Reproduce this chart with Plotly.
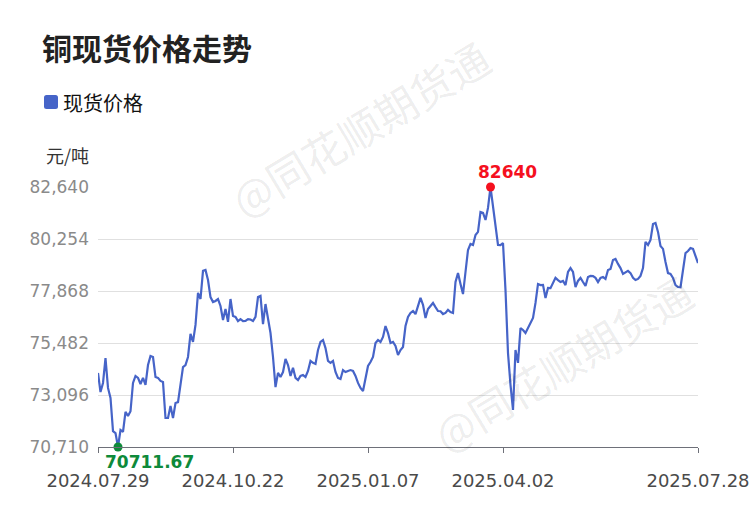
import plotly.graph_objects as go

# ---- data ----
tick_labels = ["2024.07.29", "2024.10.22", "2025.01.07", "2025.04.02", "2025.07.28"]
tick_index = [0, 54, 108, 162, 240]
y_ticks = [70710, 73096, 75482, 77868, 80254, 82640]
series_name = "现货价格"
unit = "元/吨"
title = "铜现货价格走势"
watermark = "@同花顺期货通"

prices = [
    74110, 73230, 73650, 74790, 73420, 72960, 71440, 71350, 70711.67, 71490,
    71400, 72320, 72130, 72350, 73650, 73970, 73880, 73600, 73880, 73560,
    74470, 74890, 74840, 73920, 73880, 73740, 73690, 72040, 72040, 72590,
    72040, 72730, 72770, 73650, 74380, 74470, 74840, 75900, 75530, 76310,
    77780, 77500, 78790, 78830, 78370, 77590, 77360, 77410, 77500, 77180,
    76540, 77040, 76450, 77500, 76720, 76680, 76490, 76580, 76490, 76500,
    76580, 76560, 76490, 76680, 77590, 77640, 76350, 77270, 76680, 75940,
    74840, 73460, 74110, 73920, 74150, 74750, 74470, 73970, 74340, 73880,
    73780, 73970, 74010, 73920, 74200, 74660, 74570, 74520, 75160, 75530,
    75620, 75250, 74660, 74570, 74660, 74150, 73880, 73830, 74240, 74150,
    74200, 74240, 74200, 73970, 73650, 73420, 73280, 73880, 74430, 74610,
    74840, 75480, 75620, 75530, 75760, 76260, 75940, 75480, 75530, 75350,
    74930, 75160, 75300, 76260, 76680, 76860, 76950, 76810, 77230, 77550,
    77230, 76630, 77040, 77180, 77320, 77130, 76950, 76940, 76810, 76860,
    77000, 76900, 76860, 78280, 78690, 78190, 77730, 78740, 79750, 80030,
    79980, 80440, 80580, 81490, 81450, 81130, 81680, 82640, 81720, 80810,
    79980, 79970, 80070, 77910, 75020, 73560, 72410, 75160, 74570, 76170,
    76080, 75940, 76170, 76350, 76630, 77320, 78190, 78140, 78150, 77550,
    78010, 78000, 78240, 78470, 78370, 78280, 78330, 78140, 78740, 78920,
    78740, 78050, 78330, 78470, 78280, 78100, 78510, 78560, 78550, 78470,
    78280, 78470, 78510, 78420, 78830, 78880, 79290, 79340, 79110, 78920,
    78650, 78740, 78790, 78690, 78470, 78370, 78420, 78560, 78920, 80120,
    79980, 80210, 80940, 80990, 80580, 79930, 79800, 79200, 78690, 78650,
    78470, 78140, 78050, 78040, 78830, 79610, 79700, 79840, 79800, 79520,
    79150,
]

x = list(range(len(prices)))
i_min = prices.index(min(prices))
i_max = prices.index(max(prices))

LINE = "#4664c8"
GREEN = "#0e8a3a"
RED = "#f5101e"
CJK = "Noto Sans CJK SC"
NUM = "DejaVu Sans"

W, H = 750, 510
L, R, T, B = 98, 52, 187, 63
PW, PH = W - L - R, H - T - B


def px(xp):
    return (xp - L) / PW


def py(yp):
    return (H - B - yp) / PH


fig = go.Figure()

fig.add_trace(go.Scatter(
    x=x, y=prices, mode="lines", name=series_name,
    line=dict(color=LINE, width=2.2), showlegend=False,
))
fig.add_trace(go.Scatter(
    x=[i_min], y=[prices[i_min]], mode="markers",
    marker=dict(color=GREEN, size=9), showlegend=False, cliponaxis=False,
))
fig.add_trace(go.Scatter(
    x=[i_max], y=[prices[i_max]], mode="markers",
    marker=dict(color=RED, size=9), showlegend=False, cliponaxis=False,
))

annotations = [
    dict(x=i_min, y=prices[i_min], xref="x", yref="y", text=f"{prices[i_min]:.2f}",
         showarrow=False, xanchor="left", yanchor="top", xshift=-15, yshift=-3,
         font=dict(family=NUM, size=17, color=GREEN, weight="bold")),
    dict(x=i_max, y=prices[i_max], xref="x", yref="y", text=f"{prices[i_max]:g}",
         showarrow=False, xanchor="center", yanchor="bottom", xshift=17, yshift=3,
         font=dict(family=NUM, size=17, color=RED, weight="bold")),
    dict(x=px(40), y=py(47), xref="paper", yref="paper", text=title,
         showarrow=False, xanchor="left", yanchor="middle",
         font=dict(family=CJK, size=30, color="#222222", weight="bold")),
    dict(x=px(61), y=py(102), xref="paper", yref="paper", text=series_name,
         showarrow=False, xanchor="left", yanchor="middle",
         font=dict(family=CJK, size=20, color="#111111")),
    dict(x=px(91), y=py(155), xref="paper", yref="paper", text=unit,
         showarrow=False, xanchor="right", yanchor="middle",
         font=dict(family=CJK, size=18, color="#333333")),
    dict(x=px(360), y=py(128), xref="paper", yref="paper", text=watermark,
         showarrow=False, textangle=-31, xanchor="center", yanchor="middle",
         font=dict(family=CJK, size=42, color="rgba(0,0,0,0.085)")),
    dict(x=px(562), y=py(362), xref="paper", yref="paper", text=watermark,
         showarrow=False, textangle=-31, xanchor="center", yanchor="middle",
         font=dict(family=CJK, size=42, color="rgba(0,0,0,0.085)")),
]

# legend swatch (rounded square)
x0, x1, y0, y1 = px(44), px(58), py(109), py(95)
rx, ry = 2.5 / PW, 2.5 / PH
path = (f"M {x0+rx},{y0} L {x1-rx},{y0} Q {x1},{y0} {x1},{y0+ry} "
        f"L {x1},{y1-ry} Q {x1},{y1} {x1-rx},{y1} L {x0+rx},{y1} "
        f"Q {x0},{y1} {x0},{y1-ry} L {x0},{y0+ry} Q {x0},{y0} {x0+rx},{y0} Z")
shapes = [dict(type="path", path=path, xref="paper", yref="paper",
               fillcolor=LINE, line=dict(width=0))]

fig.update_layout(
    width=W, height=H,
    margin=dict(l=L, r=R, t=T, b=B, autoexpand=False),
    paper_bgcolor="white", plot_bgcolor="white",
    showlegend=False,
    annotations=annotations, shapes=shapes,
    xaxis=dict(
        range=[0, len(prices) - 1], automargin=False,
        tickmode="array", tickvals=tick_index, ticktext=tick_labels,
        showgrid=False, zeroline=False,
        showline=True, linecolor="#6e7079", linewidth=1,
        ticks="outside", ticklen=5, tickcolor="#6e7079",
        ticklabelstandoff=12,
        tickfont=dict(family=NUM, size=18, color="#4a4a4a"),
    ),
    yaxis=dict(
        range=[y_ticks[0], y_ticks[-1]], automargin=False,
        tickmode="array", tickvals=y_ticks,
        ticktext=[f"{v:,}" for v in y_ticks],
        showgrid=True, gridcolor="#e0e0e0", gridwidth=1,
        zeroline=False, showline=False, ticks="",
        ticklabelstandoff=8,
        tickfont=dict(family=NUM, size=17, color="#8a8a8a"),
    ),
)

fig.write_html("out.html", config={"displayModeBar": False},
               post_script="document.body.style.margin='0';")
